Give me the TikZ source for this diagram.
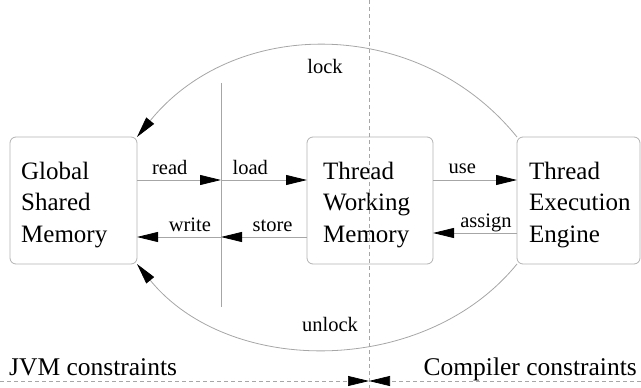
\documentclass[tikz,border=0pt]{standalone}
\usepackage{fontspec}
\setmainfont{LiberationSerif}[Extension=.ttf,UprightFont=*-Regular,BoldFont=*-Bold,ItalicFont=*-Italic,BoldItalicFont=*-BoldItalic]
\usetikzlibrary{arrows.meta,calc}
\begin{document}
\begin{tikzpicture}[x=1pt,y=-1pt,
  every node/.style={font=\rmfamily},
  line/.style={draw=gray!70,line width=0.8pt},
  arr/.style={line,-{Triangle[length=21pt,width=10pt,black]}},
  dline/.style={draw=gray!70,line width=0.7pt,dash pattern=on 4pt off 3pt},
  darr/.style={dline,-{Triangle[length=21pt,width=10pt,black]}},
  box/.style={draw=gray!60,line width=0.8pt,rounded corners=6pt,minimum height=127pt,inner sep=0pt,outer sep=0pt},
  boxtext/.style={font=\rmfamily\fontsize{25}{31.5}\selectfont,align=left,anchor=west,inner sep=0pt},
  lbl/.style={font=\rmfamily\fontsize{20.5}{24}\selectfont,anchor=base,inner sep=0pt},
  bigtext/.style={font=\rmfamily\fontsize{25.5}{30}\selectfont,inner sep=0pt}]
\useasboundingbox (0,0) rectangle (641,388);
% boxes
\node[box,minimum width=127pt] (g) at (73.5,200.5) {};
\node[box,minimum width=126pt] (w) at (370,200.5) {};
\node[box,minimum width=123pt] (e) at (578.5,200.5) {};
\node[boxtext] (gt) at ($(g.west)+(11,4.2)$) {Global\\Shared\\Memory};
\node[boxtext] (wt) at ($(w.west)+(16,4.2)$) {Thread\\Working\\Memory};
\node[boxtext] (et) at ($(e.west)+(12,4.2)$) {Thread\\Execution\\Engine};
% guide lines
\coordinate (vtop) at (221,83);
\coordinate (vbot) at (221,307);
\draw[line] (vtop) -- (vbot);
\coordinate (dtop) at (369,0);
\coordinate (dbot) at (369,388);
\draw[dline] (dtop) -- (dbot);
\coordinate (hl) at (0,381);
\coordinate (hc) at (369,381);
\coordinate (hr) at (641,381);
\draw[darr] (hl) -- (hc);
\draw[darr] (hr) -- (hc);
% rows
\coordinate (rowA) at (0,180);
\coordinate (rowB) at (0,237);
\coordinate (rowC) at (0,233);
\draw[arr] (g.east |- rowA) -- node[lbl,pos=0.39,yshift=6pt] {read} (vtop |- rowA);
\draw[arr] (vtop |- rowA) -- node[lbl,pos=0.34,yshift=6pt] {load} (w.west |- rowA);
\draw[arr] (w.east |- rowA) -- node[lbl,pos=0.35,yshift=7pt] {use} (e.west |- rowA);
\draw[arr] (vtop |- rowB) -- node[lbl,pos=0.37,yshift=6pt] {write} (g.east |- rowB);
\draw[arr] (w.west |- rowB) -- node[lbl,pos=0.40,yshift=6pt] {store} (vtop |- rowB);
\draw[arr] (e.west |- rowC) -- node[lbl,pos=0.37,yshift=6pt] {assign} (w.east |- rowC);
% lock / unlock
\draw[arr] (e.north west) .. controls (419,16) and (235,16) .. node[lbl,pos=0.5,yshift=-27pt,xshift=-2pt] {lock} (g.north east);
\draw[arr] (e.south west) .. controls (425,377) and (229,377) .. node[lbl,pos=0.5,yshift=17pt,xshift=3pt] {unlock} (g.south east);
% captions
\node[bigtext,anchor=base west] (jvm) at (9,375.5) {JVM constraints};
\node[bigtext,anchor=base east] (comp) at (637,375) {Compiler constraints};
\end{tikzpicture}
\end{document}
